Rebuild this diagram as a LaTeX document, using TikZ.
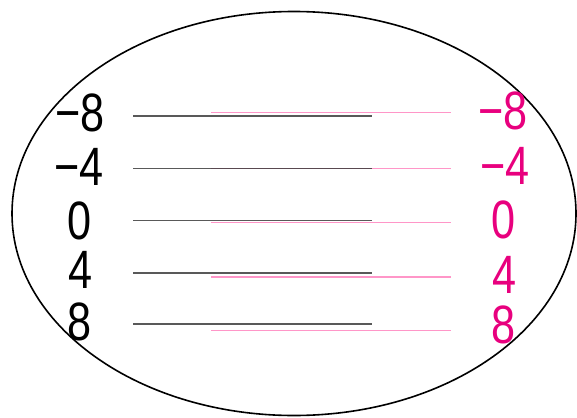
\documentclass[tikz,border=0pt]{standalone}
\usepackage{fontspec}
\setmainfont{Liberation Sans}
\definecolor{magentaink}{RGB}{232,0,126}
\definecolor{pinkline}{RGB}{255,150,200}
\definecolor{grayline}{RGB}{60,60,60}
\begin{document}
\begin{tikzpicture}[x=1pt,y=-1pt,
  lbl/.style={inner sep=0pt, xscale=0.8, font=\fontsize{54}{58}\selectfont},
  blacklbl/.style={lbl, text=black},
  pinklbl/.style={lbl, text=magentaink},
  blackbar/.style={draw=grayline, line width=1.4pt},
  pinkbar/.style={draw=pinkline, line width=1.4pt},
  rim/.style={draw=black, line width=1.6pt}]
\useasboundingbox (0,0) rectangle (577,417);
\draw[rim] (294,213.5) ellipse [x radius=282, y radius=202];
% black labels
\node[blacklbl] (bm8) at (80,113) {−8};
\node[blacklbl] (bm4) at (79,167) {−4};
\node[blacklbl] (b0) at (80,221) {0};
\node[blacklbl] (b4) at (81,270) {4};
\node[blacklbl] (b8) at (80,322) {8};
% pink labels
\node[pinklbl] (pm8) at (503,111) {−8};
\node[pinklbl] (pm4) at (505,166) {−4};
\node[pinklbl] (p0) at (504,220) {0};
\node[pinklbl] (p4) at (505,275) {4};
\node[pinklbl] (p8) at (504,325) {8};
% pink lines
\coordinate (pa1) at (211,112.7); \coordinate (pb1) at (451,112.7);
\coordinate (pa2) at (211,168.7); \coordinate (pb2) at (451,168.7);
\coordinate (pa3) at (211,222.7); \coordinate (pb3) at (451,222.7);
\coordinate (pa4) at (211,277); \coordinate (pb4) at (451,277);
\coordinate (pa5) at (211,330.7); \coordinate (pb5) at (451,330.7);
\foreach \i in {1,...,5} {\draw[pinkbar] (pa\i) -- (pb\i);}
% black lines
\coordinate (ba1) at (133,116); \coordinate (bb1) at (372,116);
\coordinate (ba2) at (133,168.7); \coordinate (bb2) at (372,168.7);
\coordinate (ba3) at (133,220.7); \coordinate (bb3) at (372,220.7);
\coordinate (ba4) at (133,273); \coordinate (bb4) at (372,273);
\coordinate (ba5) at (133,324); \coordinate (bb5) at (372,324);
\foreach \i in {1,...,5} {\draw[blackbar, opacity=0.85] (ba\i) -- (bb\i);}
\end{tikzpicture}
\end{document}
